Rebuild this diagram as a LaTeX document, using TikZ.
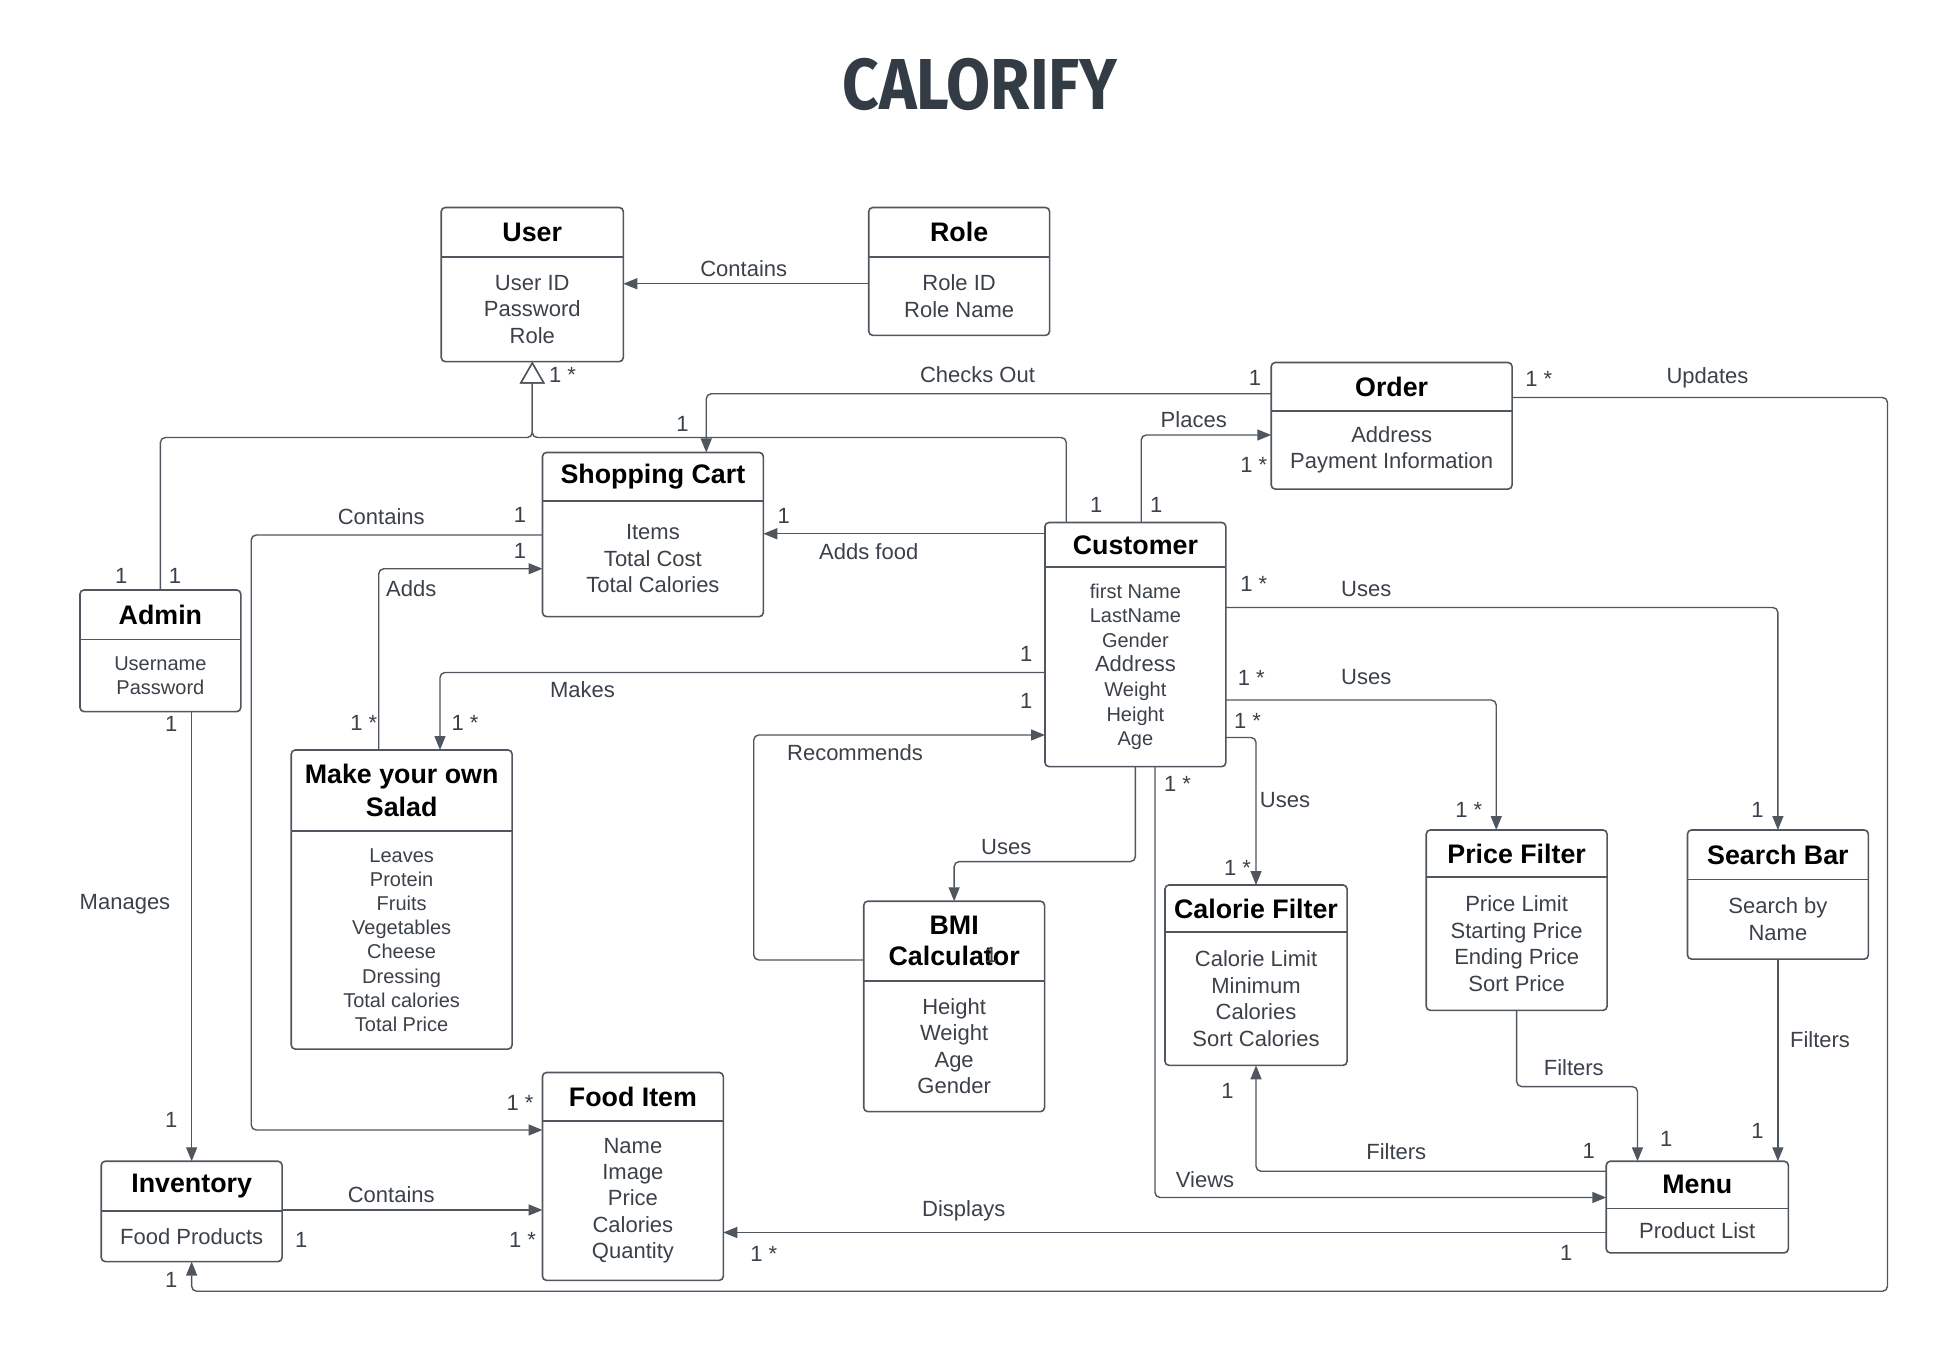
\documentclass[tikz,border=0pt]{standalone}
\usepackage{fontspec}
\setmainfont{Liberation Sans}
\newfontfamily\titlefont{Fira Sans}
\usepackage{xcolor}
\usepackage{graphicx}
\usetikzlibrary{positioning,arrows.meta,calc}

\definecolor{linegray}{HTML}{50565E}
\definecolor{textgray}{HTML}{3B4149}
\definecolor{titlegray}{HTML}{333B45}

\newlength\vpx
\setlength\vpx{0.625pt}
\newcommand\headfont{\fontsize{13.4}{15.6}\selectfont\bfseries}
\newcommand\bodyfont{\fontsize{11}{13.2}\selectfont}
\newcommand\smallfont{\fontsize{10}{12.3}\selectfont}
\newcommand\lblfont{\fontsize{11}{13}\selectfont}

\tikzset{
  head/.style={inner sep=0pt, anchor=north west, align=center, font=\headfont, text=black},
  attrs/.style={inner sep=0pt, align=center, font=\bodyfont, text=textgray},
  frame/.style={draw=linegray, line width=0.8pt, rounded corners=2pt},
  divider/.style={draw=linegray, line width=0.8pt},
  link/.style={draw=linegray, line width=0.7pt, rounded corners=2.5pt},
  assoc/.style={link, -{Triangle[length=7pt,width=5.5pt]}},
  inherit/.style={link, -{Triangle[open,length=11pt,width=12.5pt]}},
  lbl/.style={inner sep=0pt, font=\lblfont, text=textgray},
}

\begin{document}
\begin{tikzpicture}[x=0.625pt, y=-0.625pt]
        \useasboundingbox (0,0) rectangle (1560.8,1078.4);

        % Title
        \node[inner sep=0pt, text=titlegray] (title) at (784,67.5) {\resizebox{220\vpx}{41\vpx}{\titlefont\bfseries CALORIFY}};

        % User
        \node[head, minimum width=145\vpx, minimum height=39\vpx] (User) at (353,166) {User};
        \node[attrs, minimum width=145\vpx, minimum height=83\vpx, below=0pt of User] (User-b) {User ID\\Password\\Role};

        % Role
        \node[head, minimum width=144\vpx, minimum height=39\vpx] (Role) at (695,166) {Role};
        \node[attrs, minimum width=144\vpx, minimum height=62\vpx, below=0pt of Role] (Role-b) {Role ID\\Role Name};

        % Order
        \node[head, minimum width=192\vpx, minimum height=38\vpx] (Order) at (1017,290) {Order};
        \node[attrs, minimum width=192\vpx, minimum height=62\vpx, below=0pt of Order] (Order-b) {Address\\Payment Information};

        % Shopping Cart
        \node[head, minimum width=176\vpx, minimum height=38\vpx] (Cart) at (434,362) {Shopping Cart};
        \node[attrs, minimum width=176\vpx, minimum height=92\vpx, below=0pt of Cart] (Cart-b) {Items\\Total Cost\\Total Calories};

        % Customer
        \node[head, minimum width=144\vpx, minimum height=35\vpx] (Customer) at (836,418) {Customer};
        \node[attrs, font=\smallfont, minimum width=144\vpx, minimum height=159\vpx, below=0pt of Customer] (Customer-b) {first Name\\LastName\\Gender\\{\bodyfont Address}\\Weight\\Height\\Age};

        % Admin
        \node[head, minimum width=128\vpx, minimum height=39\vpx] (Admin) at (64,472) {Admin};
        \node[attrs, font=\smallfont, minimum width=128\vpx, minimum height=57\vpx, below=0pt of Admin] (Admin-b) {Username\\Password};

        % Make your own Salad
        \node[head, font=\fontsize{13.4}{16.2}\selectfont\bfseries, minimum width=176\vpx, minimum height=64\vpx] (Salad) at (233,600) {Make your own\\Salad};
        \node[attrs, font=\fontsize{10}{12.1}\selectfont, minimum width=176\vpx, minimum height=174\vpx, below=0pt of Salad] (Salad-b) {Leaves\\Protein\\Fruits\\Vegetables\\Cheese\\Dressing\\Total calories\\Total Price};

        % BMI Calculator
        \node[head, minimum width=144\vpx, minimum height=63\vpx] (BMI) at (691,721) {BMI\\Calculator};
        \node[attrs, minimum width=144\vpx, minimum height=104\vpx, below=0pt of BMI] (BMI-b) {Height\\Weight\\Age\\Gender};

        % Calorie Filter
        \node[head, minimum width=145\vpx, minimum height=37\vpx] (CalF) at (932,708) {Calorie Filter};
        \node[attrs, minimum width=145\vpx, minimum height=106\vpx, below=0pt of CalF] (CalF-b) {Calorie Limit\\Minimum\\Calories\\Sort Calories};

        % Price Filter
        \node[head, minimum width=144\vpx, minimum height=37\vpx] (PriceF) at (1141,664) {Price Filter};
        \node[attrs, minimum width=144\vpx, minimum height=106\vpx, below=0pt of PriceF] (PriceF-b) {Price Limit\\Starting Price\\Ending Price\\Sort Price};

        % Search Bar
        \node[head, minimum width=144\vpx, minimum height=39\vpx] (Search) at (1350,664) {Search Bar};
        \node[attrs, minimum width=144\vpx, minimum height=63\vpx, below=0pt of Search] (Search-b) {Search by\\Name};

        % Food Item
        \node[head, minimum width=144\vpx, minimum height=38\vpx] (Food) at (434,858) {Food Item};
        \node[attrs, minimum width=144\vpx, minimum height=127\vpx, below=0pt of Food] (Food-b) {Name\\Image\\Price\\Calories\\Quantity};

        % Inventory
        \node[head, minimum width=144\vpx, minimum height=39\vpx] (Inventory) at (81,929) {Inventory};
        \node[attrs, minimum width=144\vpx, minimum height=40\vpx, below=0pt of Inventory] (Inventory-b) {Food Products};

        % Menu
        \node[head, minimum width=145\vpx, minimum height=37\vpx] (Menu) at (1285,929) {Menu};
        \node[attrs, minimum width=145\vpx, minimum height=35\vpx, below=0pt of Menu] (Menu-b) {Product List};

        % Frames
        \foreach \c in {User,Role,Order,Cart,Customer,Admin,Salad,BMI,CalF,PriceF,Search,Food,Inventory,Menu} {
            \draw[frame] (\c.north west) rectangle (\c-b.south east);
            \draw[divider] (\c.south west) -- (\c.south east);
        }

        % Arrows
        \draw[assoc] (Role-b.west |- 0,227) -- (User-b.east |- 0,227);
        \coordinate (genj) at (User-b.south |- 0,350);
        \draw[inherit] (Admin.north) |- (genj) -- (User-b.south);
        \draw[inherit] (Customer.north -| 853,0) |- (genj) -- (User-b.south);
        \draw[assoc] (Order.west |- 0,315) -| (Cart.north -| 565,0);
        \draw[assoc] (Customer.north -| 913,0) |- (Order-b.west |- 0,348);
        \coordinate (upd) at (1510,1033);
        \draw[assoc] (Order.east |- 0,318) -| (upd) -| (Inventory-b.south);
        \draw[assoc] (Customer.west |- 0,427) -- (Cart-b.east |- 0,427);
        \draw[assoc] (Cart-b.west |- 0,428) -- (201,428) |- (Food-b.west |- 0,904);
        \draw[assoc] (Salad.north -| 303,0) |- (Cart-b.west |- 0,455);
        \draw[assoc] (Customer-b.west |- 0,538) -| (Salad.north -| 352,0);
        \draw[assoc] (BMI.west |- 0,768) -| (603,588) -- (Customer-b.west |- 0,588);
        \draw[assoc] (Customer-b.south) -- ++(0,76) -| (BMI.north);
        \draw[assoc] (Customer-b.south -| 924,0) |- (Menu.west |- 0,958);
        \draw[assoc] (Customer-b.east |- 0,590) -| (CalF.north);
        \draw[assoc] (Customer-b.east |- 0,560) -| (PriceF.north -| 1197,0);
        \draw[assoc] (Customer-b.east |- 0,486) -| (Search.north);
        \draw[assoc] (PriceF-b.south) -- ++(0,61) -| (Menu.north -| 1310,0);
        \draw[assoc] (Search-b.south) -- (Menu.north -| Search-b.south);
        \draw[assoc] (Menu.west |- 0,937) -| (CalF-b.south);
        \draw[assoc] (Menu-b.west |- 0,986) -- (Food-b.east |- 0,986);
        \draw[assoc] (Inventory-b.east |- 0,968) -- (Food-b.west |- 0,968);
        \draw[assoc] (Admin-b.south -| Inventory.north) -- (Inventory.north);

        % Connector labels
        \node[lbl] (l-contains1) at (595,215) {Contains};
        \node[lbl] (l-checksout) at (782,300) {Checks Out};
        \node[lbl] (l-updates) at (1366,302) {Updates};
        \node[lbl] (l-places) at (955,336) {Places};
        \node[lbl] (l-contains2) at (305,413) {Contains};
        \node[lbl] (l-addsfood) at (695,441) {Adds food};
        \node[lbl] (l-adds) at (329,471) {Adds};
        \node[lbl] (l-uses1) at (1093,471) {Uses};
        \node[lbl] (l-uses2) at (1093,542) {Uses};
        \node[lbl] (l-makes) at (466,552) {Makes};
        \node[lbl] (l-recommends) at (684,602) {Recommends};
        \node[lbl] (l-uses3) at (1028,640) {Uses};
        \node[lbl] (l-uses4) at (805,678) {Uses};
        \node[lbl] (l-manages) at (100,723) {Manages};
        \node[lbl] (l-filters1) at (1456,832) {Filters};
        \node[lbl] (l-filters2) at (1259,854) {Filters};
        \node[lbl] (l-filters3) at (1117,921) {Filters};
        \node[lbl] (l-views) at (964,944) {Views};
        \node[lbl] (l-contains3) at (313,956) {Contains};
        \node[lbl] (l-displays) at (771,969) {Displays};

        % Multiplicities
        \foreach \x/\y/\m [count=\i] in {450/300/1 *, 1004/302/1, 546/339/1, 1231/303/1 *, 1003/372/1 *,
            877/404/1, 925/404/1, 627/413/1, 416/412/1, 416/441/1, 97/461/1, 140/461/1, 1003/467/1 *,
            821/523/1, 1001/542/1 *, 821/561/1, 998/577/1 *, 291/578/1 *, 372/578/1 *, 137/579/1,
            942/627/1 *, 1175/648/1 *, 1406/648/1, 990/694/1 *, 793/764/1, 982/873/1, 416/882/1 *,
            137/896/1, 1406/905/1, 1333/911/1, 1271/921/1, 241/992/1, 418/992/1 *, 1253/1002/1,
            611/1003/1 *, 137/1024/1}
            \node[lbl] (m\i) at (\x,\y) {\m};
    \end{tikzpicture}
\end{document}
